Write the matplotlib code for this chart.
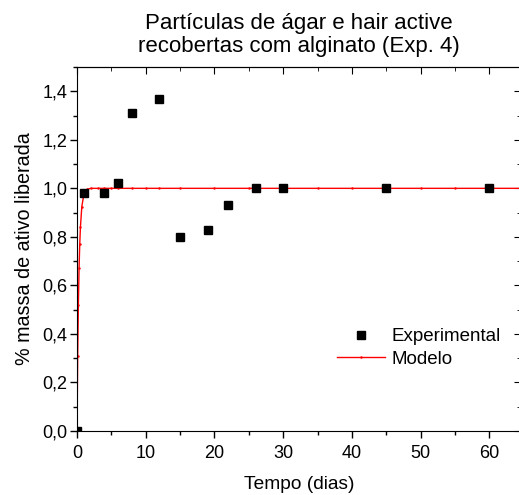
import matplotlib
matplotlib.use("Agg")
import matplotlib.pyplot as plt
from matplotlib.ticker import MultipleLocator, FuncFormatter

plt.rcParams['font.family'] = ['Liberation Sans', 'DejaVu Sans']

exp_t = [0, 1, 4, 6, 8, 12, 15, 19, 22, 26, 30, 45, 60]
exp_y = [0.0, 0.98, 0.98, 1.02, 1.31, 1.37, 0.80, 0.83, 0.93, 1.0, 1.0, 1.0, 1.0]

model_t = [0, 0.1, 0.2, 0.3, 0.4, 0.5, 0.7, 1.0, 1.25, 1.5, 2, 3, 4, 5, 6, 8, 10, 12, 15,
           20, 25, 30, 35, 40, 45, 50, 55, 60, 64.5]
model_y = [0, 0.31, 0.52, 0.67, 0.77, 0.84, 0.925, 0.975, 0.99, 0.996, 1.0, 1.0, 1.0, 1.0,
           1.0, 1.0, 1.0, 1.0, 1.0, 1.0, 1.0, 1.0, 1.0, 1.0, 1.0, 1.0, 1.0, 1.0, 1.0]

fig = plt.figure(figsize=(5.19, 4.95), dpi=100)
W, H = 519, 495
ax = fig.add_axes([77 / W, 1 - 431 / H, (521 - 77) / W, (431 - 67) / H])

ax.plot(exp_t, exp_y, 's', color='black', ms=6, label='Experimental', zorder=3)
ax.plot(model_t, model_y, '-', color='red', lw=1, marker='.', ms=1.5, label='Modelo', zorder=2)

ax.set_xlim(0, 64.6)
ax.set_ylim(0, 1.5)
ax.xaxis.set_major_locator(MultipleLocator(10))
ax.xaxis.set_minor_locator(MultipleLocator(5))
ax.yaxis.set_major_locator(MultipleLocator(0.2))
ax.yaxis.set_minor_locator(MultipleLocator(0.1))
ax.yaxis.set_major_formatter(FuncFormatter(lambda v, p: f"{v:.1f}".replace('.', ',')))
ax.tick_params(which='major', direction='out', length=5, width=1, labelsize=13, pad=2)
ax.tick_params(axis='x', which='major', pad=5)
ax.tick_params(which='minor', direction='out', length=3, width=1)

sx = ax.secondary_xaxis('top')
sx.xaxis.set_major_locator(MultipleLocator(10))
sx.xaxis.set_minor_locator(MultipleLocator(5))
sx.tick_params(which='major', direction='in', length=5, labeltop=False)
sx.tick_params(which='minor', direction='in', length=3)
sy = ax.secondary_yaxis('right')
sy.yaxis.set_major_locator(MultipleLocator(0.2))
sy.yaxis.set_minor_locator(MultipleLocator(0.1))
sy.tick_params(which='major', direction='in', length=5, labelright=False)
sy.tick_params(which='minor', direction='in', length=3)

ax.set_xlabel('Tempo (dias)', fontsize=13.8, labelpad=10)
ax.set_ylabel('% massa de ativo liberada', fontsize=14.2, labelpad=6)
ax.set_title('Partículas de ágar e hair active\nrecobertas com alginato (Exp. 4)',
             fontsize=16, linespacing=1.12, pad=10.5)

ax.legend(loc='center left', bbox_to_anchor=(0.585, 0.228), frameon=False, fontsize=13.5,
          handlelength=2.6, handletextpad=0.3, labelspacing=0.28, borderpad=0, borderaxespad=0)

fig.savefig('out.png', dpi=100)
